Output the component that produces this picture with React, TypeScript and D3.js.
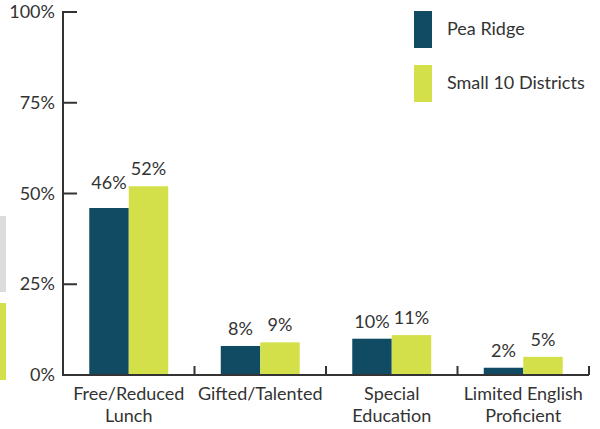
import React from "react";
import * as d3 from "d3";

const categories = ["Free/Reduced Lunch", "Gifted/Talented", "Special Education", "Limited English Proficient"];
const categoryLines = [["Free/Reduced", "Lunch"], ["Gifted/Talented"], ["Special", "Education"], ["Limited English", "Proficient"]];
const seriesNames = ["Pea Ridge", "Small 10 Districts"];
const peaRidge = [46, 8, 10, 2];
const small10 = [52, 9, 11, 5];
const yTicks = [0, 25, 50, 75, 100];

const COLORS = ["#114a63", "#d4e04a"];
const TEXT = "#333333";
const FONT = "Lato, 'Source Sans Pro', sans-serif";
const FS = 18;

export default function App() {
  const W = 600, H = 429;
  const x0 = 63, x1 = 589, yBase = 375, yTop = 12;
  const x = d3.scaleBand<string>().domain(categories).range([x0, x1]).padding(0);
  const xs = d3.scaleBand<string>().domain(seriesNames).range([0, x.bandwidth()]).paddingInner(0).paddingOuter(0.665);
  const y = d3.scaleLinear().domain([0, 100]).range([yBase, yTop]);
  const series = [peaRidge, small10];
  const labelLift: Record<string, number> = { "0-0": 8 };

  const boundaries = categories.map((c) => (x(c) as number) + x.bandwidth());

  return (
    <svg width={W} height={H} style={{ position: "absolute", left: 0, top: 0 }} fontFamily={FONT}>
      <rect x={0} y={216} width={6} height={76} fill="#dcdcdc" />
      <rect x={0} y={303} width={6} height={77} fill={COLORS[1]} />

      {categories.map((c, i) =>
        seriesNames.map((s, j) => {
          const v = series[j][i];
          const bx = (x(c) as number) + (xs(s) as number);
          const top = y(v);
          const lift = labelLift[`${i}-${j}`] || 0;
          return (
            <g key={`${i}-${j}`}>
              <rect x={bx} y={top} width={xs.bandwidth()} height={yBase - top} fill={COLORS[j]} />
              <text x={bx + xs.bandwidth() / 2} y={top - 11 - lift} textAnchor="middle" fontSize={FS} fill={TEXT}>
                {v}%
              </text>
            </g>
          );
        })
      )}

      <line x1={x0} x2={x0} y1={yTop - 1} y2={yBase + 1} stroke={TEXT} strokeWidth={2} />
      {yTicks.map((t) => (
        <g key={t}>
          <line x1={x0} x2={x0 + 14} y1={y(t)} y2={y(t)} stroke={TEXT} strokeWidth={2} />
          <text x={55} y={y(t) + 6} textAnchor="end" fontSize={FS} fill={TEXT}>
            {t}%
          </text>
        </g>
      ))}

      <line x1={x0} x2={x1} y1={yBase} y2={yBase} stroke={TEXT} strokeWidth={2} />
      {boundaries.map((bx, i) => (
        <line key={i} x1={bx} x2={bx} y1={yBase} y2={yBase - 9} stroke={TEXT} strokeWidth={2} />
      ))}
      {categories.map((c, i) => (
        <text key={c} x={(x(c) as number) + x.bandwidth() / 2} textAnchor="middle" fontSize={FS} fill={TEXT}>
          {categoryLines[i].map((ln, k) => (
            <tspan key={k} x={(x(c) as number) + x.bandwidth() / 2} y={400 + k * 22}>
              {ln}
            </tspan>
          ))}
        </text>
      ))}

      {seriesNames.map((s, j) => (
        <g key={s}>
          <rect x={414} y={11 + j * 54} width={18} height={37} fill={COLORS[j]} />
          <text x={447} y={35 + j * 54} fontSize={FS} fill={TEXT}>
            {s}
          </text>
        </g>
      ))}
    </svg>
  );
}
